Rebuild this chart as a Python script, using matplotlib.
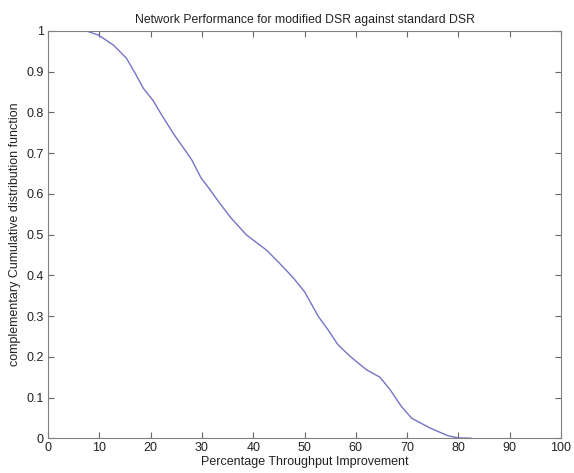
import matplotlib
matplotlib.use("Agg")
import matplotlib.pyplot as plt
from matplotlib.ticker import FuncFormatter

plt.rcParams['font.family'] = ['Liberation Sans', 'DejaVu Sans']

improvement = [0, 7.5, 9.8, 12.7, 15.3, 17.0, 18.6, 20.5, 22.0, 24.6, 26.4, 28.0, 29.8,
               31.6, 33.3, 35.6, 38.7, 42.6, 45.5, 47.8, 50.0, 52.7, 54.6, 56.5,
               58.9, 62.1, 64.7, 66.7, 68.9, 70.9, 74.5, 78.0, 80.0, 82.5]
ccdf = [1.0, 1.0, 0.99, 0.966, 0.933, 0.896, 0.859, 0.829, 0.797, 0.745, 0.713, 0.684, 0.640,
        0.610, 0.580, 0.542, 0.499, 0.462, 0.425, 0.394, 0.360, 0.299, 0.266, 0.230,
        0.201, 0.168, 0.150, 0.119, 0.078, 0.049, 0.025, 0.006, 0.001, 0.0]

xticks = [0, 10, 20, 30, 40, 50, 60, 70, 80, 90, 100]
yticks = [0, 0.1, 0.2, 0.3, 0.4, 0.5, 0.6, 0.7, 0.8, 0.9, 1.0]

fig = plt.figure(figsize=(5.74, 4.73), dpi=100)
ax = fig.add_axes([0.0836, 0.0734, 0.8938, 0.8611])
ax.plot(improvement, ccdf, color='#7474c6', lw=1.0)
ax.set_xlim(0, 100)
ax.set_ylim(0, 1)
ax.set_xticks(xticks)
ax.set_yticks(yticks)
fmt = FuncFormatter(lambda v, p: '%g' % v)
ax.xaxis.set_major_formatter(fmt)
ax.yaxis.set_major_formatter(fmt)
ax.tick_params(direction='in', top=True, right=True, length=4, width=0.8,
               colors='#666666', labelcolor='#222222', labelsize=9, pad=3)
for s in ax.spines.values():
    s.set_color('#808080')
    s.set_linewidth(0.8)
ax.set_title('Network Performance for modified DSR against standard DSR',
             fontsize=8.8, color='#222222', pad=6)
ax.set_xlabel('Percentage Throughput Improvement', fontsize=9, color='#222222', labelpad=1)
ax.set_ylabel('complementary Cumulative distribution function', fontsize=9,
              color='#222222', labelpad=4)
fig.savefig('out.png', dpi=100)
